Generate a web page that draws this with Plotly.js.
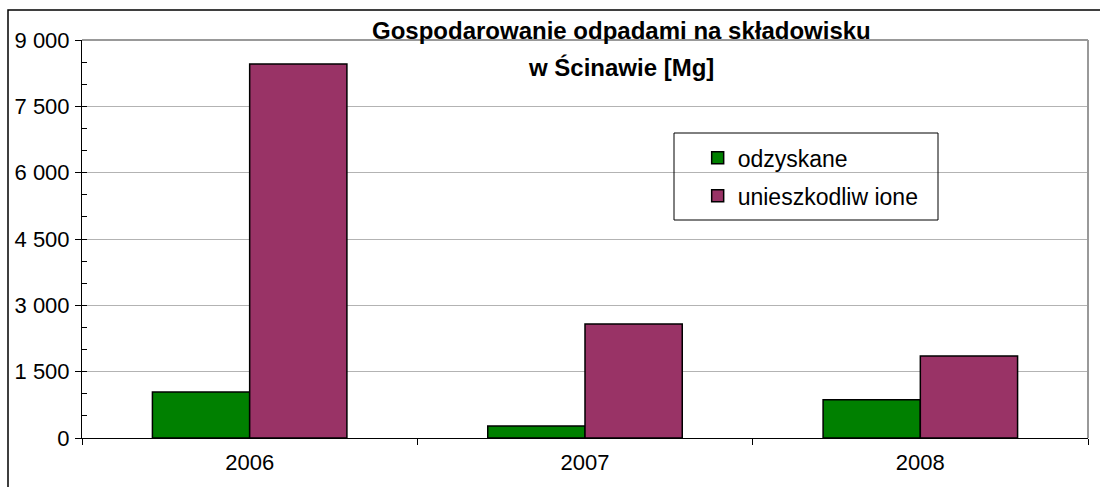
<!DOCTYPE html>
<html><head><meta charset="utf-8">
<script src="https://cdn.plot.ly/plotly-3.0.1.min.js"></script>
<style>html,body{margin:0;padding:0;background:#fff}#c{width:1100px;height:487px}</style>
</head><body><div id="c"></div>
<script>
const years = ['2006', '2007', '2008'];
const odzyskane = [1040, 270, 865];
const unieszkodliwione = [8455, 2580, 1855];
const seriesNames = ['odzyskane', 'unieszkodliw ione'];
const titleLines = ['Gospodarowanie odpadami na składowisku', 'w Ścinawie [Mg]'];

const font = 'Liberation Sans, Arial, sans-serif';
const traces = [
  {type:'bar', x: years, y: odzyskane, name: seriesNames[0], legendgroup:'a',
   marker:{color:'#008000', line:{color:'#000', width:1.5}}},
  {type:'bar', x: years, y: unieszkodliwione, name: seriesNames[1], legendgroup:'b',
   marker:{color:'#993366', line:{color:'#000', width:1.5}}}
];
const layout = {
  width:1100, height:487,
  margin:{l:82, r:12, t:40, b:49},
  paper_bgcolor:'#fff', plot_bgcolor:'#fff',
  font:{family:font, size:22, color:'#000'},
  separators:', ',
  barmode:'group', bargap:0.42, bargroupgap:0,
  showlegend:true,
  legend:{x:0.612, y:0.758, xanchor:'left', yanchor:'top', bgcolor:'rgba(0,0,0,0)',
          borderwidth:0, font:{family:font, size:23}, tracegroupgap:5, traceorder:'grouped'},
  xaxis:{type:'category', tickson:'boundaries', ticks:'outside', ticklen:6, tickcolor:'#000',
         showline:true, linecolor:'#000', linewidth:1, showgrid:false, ticklabelstandoff:5,
         tickfont:{family:font, size:22}},
  yaxis:{range:[0,9000], dtick:1500, tickformat:',.0f', ticks:'outside', ticklen:6, tickcolor:'#000',
         showline:true, linecolor:'#000', linewidth:1, showgrid:true, gridcolor:'#b3b3b3', gridwidth:1,
         zeroline:false, ticklabelstandoff:1, tickfont:{family:font, size:22},
         minor:{dtick:500, ticks:'inside', ticklen:5, tickcolor:'#000', showgrid:false}},
  shapes:[
    {type:'line', xref:'paper', yref:'paper', x0:0, x1:1, y0:1, y1:1, line:{color:'#999', width:2}},
    {type:'line', xref:'paper', yref:'paper', x0:1, x1:1, y0:0, y1:1, line:{color:'#999', width:2}},
    {type:'rect', xref:'paper', yref:'paper', x0:(674-82)/1006, x1:(938-82)/1006,
     y0:(438-220)/398, y1:(438-133)/398, line:{color:'#000', width:1}},
    {type:'rect', xref:'paper', yref:'paper', x0:(8-82)/1006, x1:(1110-82)/1006,
     y0:(438-500)/398, y1:(438-10)/398, line:{color:'#000', width:1.5}}
  ],
  annotations:[
    {xref:'paper', yref:'paper', x:(621-82)/1006, y:(438-30)/398, xanchor:'center', yanchor:'middle',
     text:'<b>'+titleLines[0]+'</b>', showarrow:false, font:{family:font, size:24}},
    {xref:'paper', yref:'paper', x:(621-82)/1006, y:(438-68)/398, xanchor:'center', yanchor:'middle',
     text:'<b>'+titleLines[1]+'</b>', showarrow:false, font:{family:font, size:24}}
  ]
};
Plotly.newPlot('c', traces, layout, {displayModeBar:false, staticPlot:true});
</script></body></html>
